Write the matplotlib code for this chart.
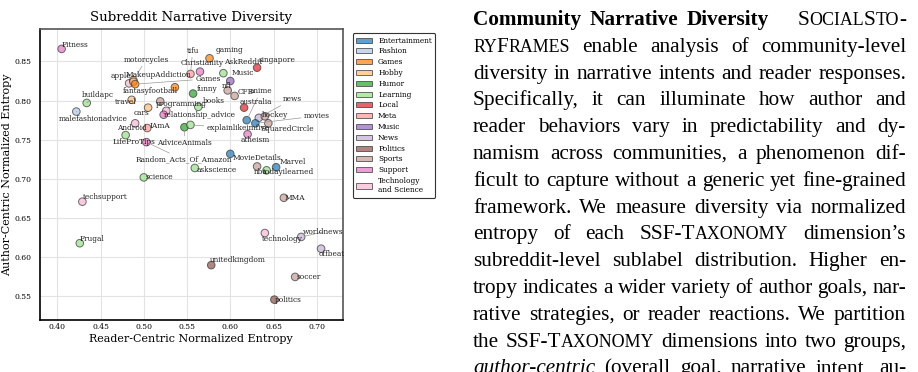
import re
import matplotlib
matplotlib.use("Agg")
import matplotlib.pyplot as plt
from matplotlib.patches import Patch

# subreddit entropies
names = [
    "Fitness", "apple", "motorcycles", "MakeupAddiction", "Games", "fantasyfootball",
    "buildapc", "travel", "cars", "", "programming", "relationship_advice",
    "malefashionadvice", "Android", "IAmA", "LifeProTips", "Random_Acts_Of_Amazon",
    "AdviceAnimals", "explainlikeimfive", "science", "techsupport", "Frugal",
    "askscience", "MovieDetails", "Marvel", "nba", "todayilearned", "MMA",
    "technology", "worldnews", "offbeat", "unitedkingdom", "soccer", "politics",
    "tifu", "gaming", "Christianity", "AskReddit", "singapore", "Music", "funny",
    "nfl", "CFB", "anime", "australia", "books", "news", "hockey", "movies",
    "SquaredCircle", "atheism",
]
categories = [
    "Support", "Technology and Science", "Hobby", "Hobby", "Games", "Games",
    "Learning", "Hobby", "Hobby", "Sports", "Technology and Science", "Support",
    "Fashion", "Technology and Science", "Meta", "Learning", "Support",
    "Humor", "Learning", "Learning", "Technology and Science", "Learning",
    "Learning", "Entertainment", "Entertainment", "Sports", "Learning", "Sports",
    "Technology and Science", "News", "News", "Politics", "Sports", "Politics",
    "Meta", "Games", "Support", "Learning", "Local", "Music", "Humor",
    "Sports", "Sports", "Entertainment", "Local", "Learning", "News", "Sports", "Entertainment",
    "Sports", "Support",
]
reader_entropy = [
    0.405, 0.483, 0.488, 0.488, 0.490, 0.536,
    0.434, 0.486, 0.505, 0.519, 0.526, 0.523,
    0.422, 0.490, 0.504, 0.479, 0.503,
    0.547, 0.554, 0.500, 0.429, 0.426,
    0.559, 0.600, 0.653, 0.631, 0.642, 0.662,
    0.640, 0.682, 0.705, 0.578, 0.675, 0.651,
    0.554, 0.576, 0.565, 0.592, 0.631, 0.600, 0.557,
    0.597, 0.605, 0.619, 0.616, 0.563, 0.633, 0.640, 0.629,
    0.644, 0.620,
]
author_entropy = [
    0.866, 0.822, 0.826, 0.824, 0.821, 0.817,
    0.797, 0.801, 0.791, 0.799, 0.787, 0.782,
    0.786, 0.771, 0.765, 0.756, 0.747,
    0.766, 0.769, 0.702, 0.671, 0.618,
    0.714, 0.732, 0.715, 0.716, 0.711, 0.676,
    0.631, 0.626, 0.611, 0.590, 0.575, 0.546,
    0.834, 0.854, 0.837, 0.835, 0.842, 0.825, 0.809,
    0.813, 0.806, 0.775, 0.791, 0.792, 0.778, 0.780, 0.771,
    0.771, 0.757,
]

category_order = [
    "Entertainment", "Fashion", "Games", "Hobby", "Humor", "Learning", "Local",
    "Meta", "Music", "News", "Politics", "Sports", "Support", "Technology and Science",
]
legend_labels = category_order[:-1] + ["Technology\nand Science"]
x_ticks = [0.40, 0.45, 0.50, 0.55, 0.60, 0.65, 0.70]
y_ticks = [0.55, 0.60, 0.65, 0.70, 0.75, 0.80, 0.85]

# label placement (pixels from the point, left/centre of the text) and which get a leader line
label_offsets = {
    "Fitness": (0, -3.6), "apple": (-18.5, -7.5), "motorcycles": (-10, -20.7),
    "MakeupAddiction": (-8, -6.5), "Games": (60, -5.3), "fantasyfootball": (-52, 3.7),
    "buildapc": (-5, -8.3), "travel": (-17, 2), "cars": (-14.4, 5.6),
    "programming": (-10.7, -6.7), "relationship_advice": (0, 0.7),
    "malefashionadvice": (-17.7, 7), "Android": (-18.3, 4.7), "IAmA": (2.3, -2.3),
    "LifeProTips": (-13.3, 7.3), "Random_Acts_Of_Amazon": (-11, 17.7),
    "AdviceAnimals": (-27.6, 15.4), "explainlikeimfive": (16, 3.3), "science": (2, 0),
    "techsupport": (0, -4.4), "Frugal": (0, -4), "askscience": (2, 2.4),
    "MovieDetails": (2, 4), "Marvel": (3, -5), "nba": (-3, 5.6),
    "todayilearned": (-3.4, 1.6), "MMA": (1, 0), "technology": (-3.3, 5.7),
    "worldnews": (2, -5), "offbeat": (-2.7, 5.7), "unitedkingdom": (-1, -5),
    "soccer": (1, 0), "politics": (0, 0.7), "tifu": (-4, -23.3), "gaming": (6, -8.3),
    "Christianity": (-19.3, -8.4), "AskReddit": (0.7, -11.3), "singapore": (2, -7.3),
    "Music": (1, -8.4), "funny": (3.3, -4.7), "nfl": (-6.3, -4.7), "CFB": (3.4, -4.3),
    "anime": (2.6, -29), "australia": (-4.7, -6), "books": (4, -5.6),
    "news": (24.4, -19), "hockey": (-2.7, -1.7), "movies": (48.3, -7.3),
    "SquaredCircle": (-7.6, 5.4), "atheism": (-6.6, 6),
}
leader_lines = {"motorcycles", "Games", "buildapc", "malefashionadvice", "Random_Acts_Of_Amazon",
                "AdviceAnimals", "explainlikeimfive", "worldnews", "tifu", "gaming",
                "singapore", "Music", "anime", "news", "movies"}

# paragraph next to the figure: *bold, _italic, [small caps], ~ = quad
paragraph = [
    "*Community *Narrative *Diversity ~ S[ocial]S[to]-",
    "[ry]F[rames] enable analysis of community-level",
    "diversity in narrative intents and reader responses.",
    "Specifically, it can illuminate how author and",
    "reader behaviors vary in predictability and dy-",
    "namism across communities, a phenomenon dif-",
    "ficult to capture without a generic yet fine-grained",
    "framework. We measure diversity via normalized",
    "entropy of each SSF-T[axonomy] dimension’s",
    "subreddit-level sublabel distribution. Higher en-",
    "tropy indicates a wider variety of author goals, nar-",
    "rative strategies, or reader reactions. We partition",
    "the SSF-T[axonomy] dimensions into two groups,",
    "_author-centric (overall goal, narrative intent, au-",
]

W, H = 918, 372
fig = plt.figure(figsize=(W / 100, H / 100), dpi=100)
ax = fig.add_axes([40 / W, 1 - 320 / H, 302.7 / W, 290.7 / H])

colors = dict(zip(category_order, plt.get_cmap("tab20").colors[:14]))
point_colors = [colors[c] for c in categories]

ax.scatter(reader_entropy, author_entropy, s=30, c=point_colors, alpha=0.7,
           edgecolors="#333333", linewidths=0.7, zorder=3)

for name, x, y in zip(names, reader_entropy, author_entropy):
    if not name:
        continue
    dx, dy = label_offsets[name]
    arrow = None
    if name in leader_lines:
        arrow = dict(arrowstyle="-", color="#999999", lw=0.5, shrinkA=0, shrinkB=2)
    ax.annotate(name, xy=(x, y), xytext=(dx * 0.72, -dy * 0.72), textcoords="offset points",
                ha="left", va="center", fontsize=5.3, family="DejaVu Serif",
                color="#222222", arrowprops=arrow, zorder=4)

ax.set_xlim(0.380, 0.730)
ax.set_ylim(0.520, 0.891)
ax.set_xticks(x_ticks)
ax.set_yticks(y_ticks)
ax.set_xticklabels([f"{v:.2f}" for v in x_ticks], family="DejaVu Serif", fontsize=5.5)
ax.set_yticklabels([f"{v:.2f}" for v in y_ticks], family="DejaVu Serif", fontsize=5.5)
ax.tick_params(axis="x", length=0, pad=2.5)
ax.tick_params(axis="y", length=0, pad=6)
ax.grid(True, color="#e3e3e3", lw=0.8, zorder=0)
ax.set_axisbelow(True)
for side in ["left", "bottom"]:
    ax.spines[side].set_color("black")
    ax.spines[side].set_linewidth(1.2)
for side in ["top", "right"]:
    ax.spines[side].set_color("#555555")
    ax.spines[side].set_linewidth(1.2)

ax.set_xlabel("Reader-Centric Normalized Entropy", family="DejaVu Serif", fontsize=8, labelpad=1.5)
ax.set_ylabel("Author-Centric Normalized Entropy", family="DejaVu Serif", fontsize=8, labelpad=2)
ax.set_title("Subreddit Narrative Diversity", family="DejaVu Serif", fontsize=9.6, pad=6)

handles = [Patch(facecolor=colors[c], alpha=0.7, edgecolor="#333333", linewidth=0.7)
           for c in category_order]
leg = ax.legend(handles, legend_labels, loc="upper left", bbox_to_anchor=(1.033, 0.986),
                borderaxespad=0, prop={"family": "DejaVu Serif", "size": 5.3},
                handlelength=2.2, handleheight=0.7, handletextpad=0.8, labelspacing=0.38,
                borderpad=0.45, frameon=True, fancybox=True, edgecolor="#333333", framealpha=1)
leg.get_frame().set_linewidth(0.8)

# justified text block
renderer = fig.canvas.get_renderer()
body = 15.3
em = body * 100 / 72
left_px, right_px = 473, 906
for i, line in enumerate(paragraph):
    baseline = 25 + 26.8 * i
    tokens = line.split(" ")
    words = []
    gaps = []
    pending = 0.0
    for tok in tokens:
        if tok == "~":
            pending += 0.6 * em
            continue
        weight, style = "normal", "normal"
        if tok.startswith("*"):
            weight, tok = "bold", tok[1:]
        if tok.startswith("_"):
            style, tok = "italic", tok[1:]
        segs = []
        for part in re.split(r"(\[[^\]]*\])", tok):
            if not part:
                continue
            if part.startswith("["):
                txt, size = part[1:-1].upper(), body * 0.84
            else:
                txt, size = part, body
            t = fig.text(0, 0, txt, fontsize=size, family="Liberation Serif",
                         weight=weight, style=style, va="baseline", ha="left")
            segs.append((t, t.get_window_extent(renderer).width))
        if words:
            gaps.append(0.25 * em + pending)
        pending = 0.0
        words.append(segs)
    natural = sum(w for segs in words for _, w in segs)
    free = (right_px - left_px) - natural
    scale = free / sum(gaps) if gaps else 1
    x = left_px
    for k, segs in enumerate(words):
        for t, w in segs:
            t.set_position((x / W, 1 - baseline / H))
            x += w
        if k < len(gaps):
            x += gaps[k] * scale

fig.savefig("out.png", dpi=100)
